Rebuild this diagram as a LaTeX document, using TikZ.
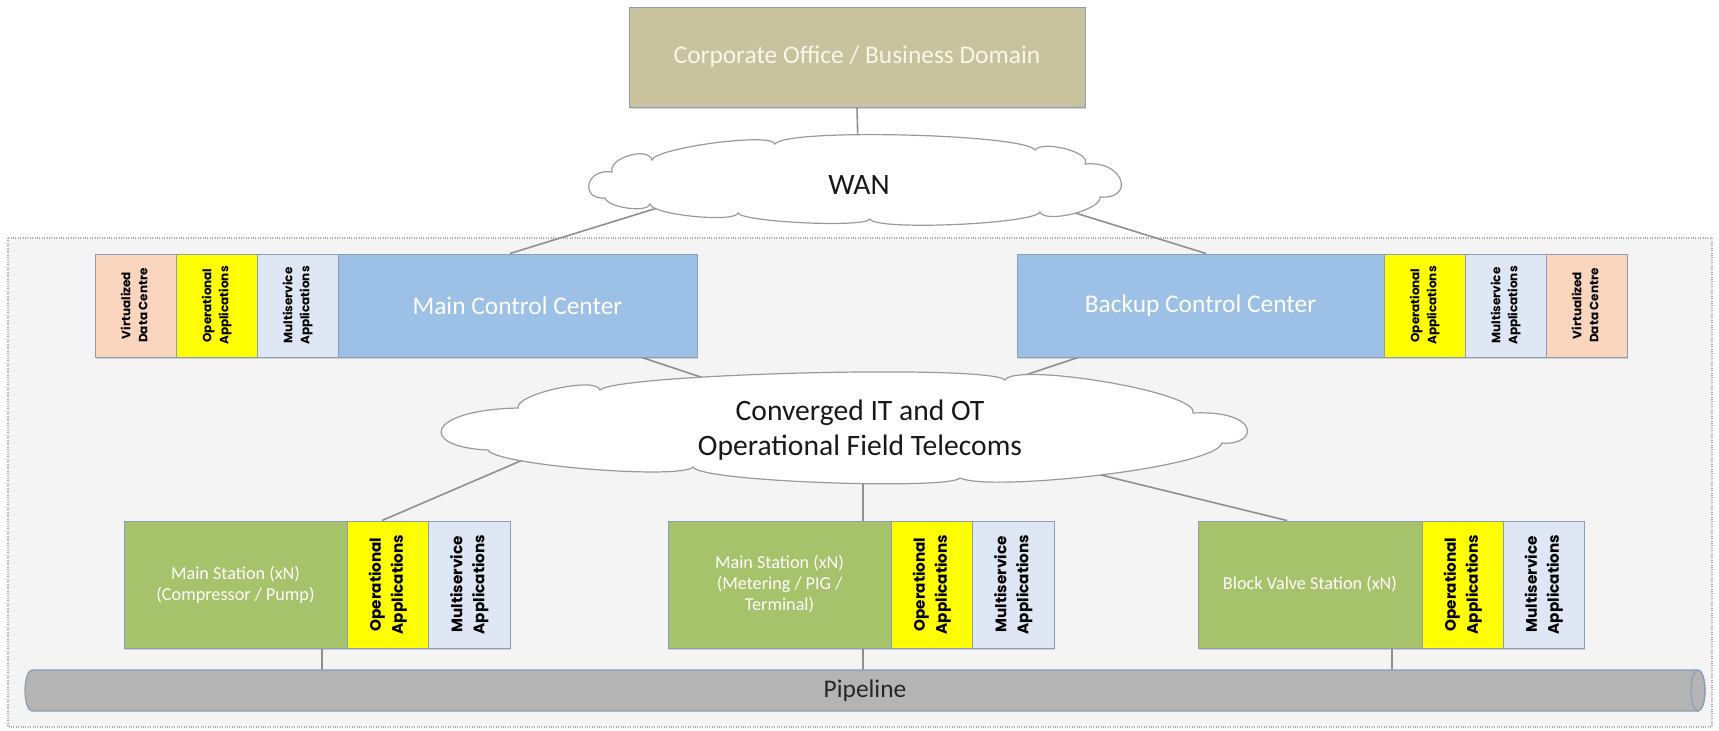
\documentclass[tikz,border=0pt]{standalone}
\usepackage{fontspec}
\setmainfont{Carlito}
\newfontfamily\rotf{Poppins}
\usepackage{graphicx}
\usetikzlibrary{shadows,calc}
\definecolor{tanc}{HTML}{C8C29F}
\definecolor{creamc}{HTML}{FBF6E6}
\definecolor{bluec}{HTML}{9CC0E6}
\definecolor{vdcc}{HTML}{FAD6BE}
\definecolor{opc}{HTML}{FFFF00}
\definecolor{msc}{HTML}{DEE7F3}
\definecolor{greenc}{HTML}{A6C26B}
\definecolor{pipec}{HTML}{B4B4B4}
\definecolor{bordc}{HTML}{8C9DB5}
\definecolor{contf}{HTML}{F4F4F4}
\definecolor{contb}{HTML}{AAAAAA}
\definecolor{linec}{HTML}{909090}
\definecolor{cloudb}{HTML}{9A9A9A}
\pgfdeclarelayer{back}
\pgfdeclarelayer{lines}
\pgfsetlayers{back,lines,main}
\newcommand\rlab[3]{\rotatebox{90}{\fontsize{#1}{#2}\rotf\bfseries\begin{tabular}{@{}c@{}}#3\end{tabular}}}
\newcommand\rlabC[1]{\rlab{6}{8.5}{#1}}
\newcommand\rlabS[1]{\rlab{7.6}{11}{#1}}
\begin{document}
\begin{tikzpicture}[x=0.5pt,y=-0.5pt,
  box/.style={draw=bordc, line width=0.5pt, inner sep=0pt,
    drop shadow={shadow xshift=0.6pt, shadow yshift=-0.9pt, opacity=0.3}},
  ctrlh/.style={minimum height=51.5pt},
  stah/.style={minimum height=63.5pt},
  narrow/.style={minimum width=40.5pt},
  bigtxt/.style={text=white, font=\fontsize{12.7}{15}\selectfont},
  statxt/.style={text=white, align=center, font=\fontsize{9.1}{10.5}\selectfont},
  cloudtxt/.style={inner sep=0pt, align=center, text=black!90, font=\fontsize{14.8}{17.5}\selectfont},
  cloudpath/.style={draw=cloudb, line width=0.6pt, fill=white},
  conn/.style={draw=linec, line width=0.8pt}
]
\useasboundingbox (0,0) rectangle (1719,730);

% container
\begin{pgfonlayer}{back}
\fill[contf] (8,238) rectangle (1712,727);
\draw[contb, line width=0.6pt, dash pattern=on 0.5pt off 0.7pt] (8,238) rectangle (1712,727);
\end{pgfonlayer}

% top
\node[box, fill=tanc, minimum width=228pt, minimum height=50pt, text=creamc,
  font=\fontsize{12.7}{15}\selectfont] (corp) at (857,57) {Corporate Office / Business Domain};

% WAN cloud
\path[cloudpath] (605,198)
  .. controls (580,200) and (585,168) .. (612,172)
  .. controls (608,158) and (648,146) .. (652,160)
  .. controls (655,148) and (772,132) .. (775,144)
  .. controls (785,128) and (1025,134) .. (1035,150)
  .. controls (1042,140) and (1092,152) .. (1085,164)
  .. controls (1125,160) and (1135,200) .. (1100,197)
  .. controls (1102,210) and (1045,224) .. (1040,212)
  .. controls (1035,224) and (875,231) .. (870,219)
  .. controls (865,228) and (742,222) .. (738,213)
  .. controls (735,223) and (652,215) .. (650,204)
  .. controls (648,213) and (608,208) .. (605,198) -- cycle;
\node[cloudtxt] (wan) at (859,185) {WAN};

% Converged cloud
\path[cloudpath] (488,450)
  .. controls (418,447) and (425,410) .. (518,408)
  .. controls (515,394) and (597,376) .. (600,390)
  .. controls (615,374) and (990,364) .. (1005,380)
  .. controls (1015,362) and (1200,392) .. (1193,413)
  .. controls (1262,410) and (1258,446) .. (1222,443)
  .. controls (1215,468) and (990,492) .. (960,478)
  .. controls (950,490) and (700,482) .. (693,467)
  .. controls (680,480) and (495,465) .. (488,450) -- cycle;
\node[cloudtxt] (conv) at (860,430) {Converged IT and OT\\Operational Field Telecoms};

% left control group
\node[box, fill=vdcc, narrow, ctrlh] (vdcL) at (135.5,305.5) {\rlabC{Virtualized\\Data Centre}};
\node[box, fill=opc, narrow, ctrlh] (opL) at (216.5,305.5) {\rlabC{Operational\\Applications}};
\node[box, fill=msc, narrow, ctrlh] (msL) at (297.5,305.5) {\rlabC{Multiservice\\Applications}};
\node[box, fill=bluec, minimum width=179.5pt, ctrlh, bigtxt] (mcc) at (517.5,305.5) {Main Control Center};

% right control group
\node[box, fill=bluec, minimum width=183.5pt, ctrlh, bigtxt] (bcc) at (1200.5,305.5) {Backup Control Center};
\node[box, fill=opc, narrow, ctrlh] (opR) at (1424.5,305.5) {\rlabC{Operational\\Applications}};
\node[box, fill=msc, narrow, ctrlh] (msR) at (1505.5,305.5) {\rlabC{Multiservice\\Applications}};
\node[box, fill=vdcc, narrow, ctrlh] (vdcR) at (1586.5,305.5) {\rlabC{Virtualized\\Data Centre}};

% stations
\node[box, fill=greenc, minimum width=111.5pt, stah, statxt] (s1) at (235.5,584.5) {Main Station (xN)\\(Compressor / Pump)};
\node[box, fill=opc, narrow, stah] (op1) at (387.5,584.5) {\rlabS{Operational\\Applications}};
\node[box, fill=msc, minimum width=41pt, stah] (ms1) at (469,584.5) {\rlabS{Multiservice\\Applications}};

\node[box, fill=greenc, minimum width=111.5pt, stah, statxt] (s2) at (779.5,584.5) {Main Station (xN)\\(Metering / PIG /\\Terminal)};
\node[box, fill=opc, narrow, stah] (op2) at (931.5,584.5) {\rlabS{Operational\\Applications}};
\node[box, fill=msc, minimum width=41pt, stah] (ms2) at (1013,584.5) {\rlabS{Multiservice\\Applications}};

\node[box, fill=greenc, minimum width=112pt, stah, statxt] (s3) at (1310,584.5) {Block Valve Station (xN)};
\node[box, fill=opc, narrow, stah] (op3) at (1462.5,584.5) {\rlabS{Operational\\Applications}};
\node[box, fill=msc, minimum width=40.5pt, stah] (ms3) at (1543.5,584.5) {\rlabS{Multiservice\\Applications}};

% pipeline
\fill[pipec] (1698,670) -- (32,670) arc[start angle=90,end angle=270,x radius=3.5pt,y radius=10.25pt]
  -- (1698,711) arc[start angle=-90,end angle=90,x radius=3.5pt,y radius=10.25pt] -- cycle;
\draw[bordc, line width=0.6pt] (1698,670) -- (32,670) arc[start angle=90,end angle=270,x radius=3.5pt,y radius=10.25pt]
  -- (1698,711) arc[start angle=-90,end angle=90,x radius=3.5pt,y radius=10.25pt];
\draw[bordc, line width=0.6pt] (1698,690.5) ellipse[x radius=3.5pt,y radius=10.25pt];
\node[minimum width=840pt, minimum height=20.5pt, inner sep=0pt, text=black!85,
  font=\fontsize{12.7}{15}\selectfont] (pipe) at (865,690.5) {Pipeline};

% connectors
\begin{pgfonlayer}{lines}
\draw[conn] (corp.south) -- (wan.center);
\draw[conn] ([xshift=-3.75pt]mcc.north) -- ([xshift=-89.5pt,yshift=-8pt]wan.center);
\draw[conn] ([xshift=2.75pt]bcc.north) -- ([xshift=90.5pt,yshift=-8.5pt]wan.center);
\draw[conn] ([xshift=62.25pt]mcc.south) -- (conv.center);
\draw[conn] ([xshift=-61.25pt]bcc.south) -- (conv.center);
\draw[conn] ([xshift=-2.75pt]op1.north) -- ([xshift=-150pt,yshift=-7pt]conv.center);
\draw[conn] ([xshift=41.75pt]s2.north) |- (conv.center);
\draw[conn] ([xshift=-11.5pt]s3.north) -- ([xshift=100pt,yshift=-17.5pt]conv.center);
\draw[conn] ([xshift=43.25pt]s1.south) |- (pipe.center);
\draw[conn] ([xshift=41.75pt]s2.south) |- (pipe.center);
\draw[conn] ([xshift=41pt]s3.south) |- (pipe.center);
\end{pgfonlayer}
\end{tikzpicture}
\end{document}
